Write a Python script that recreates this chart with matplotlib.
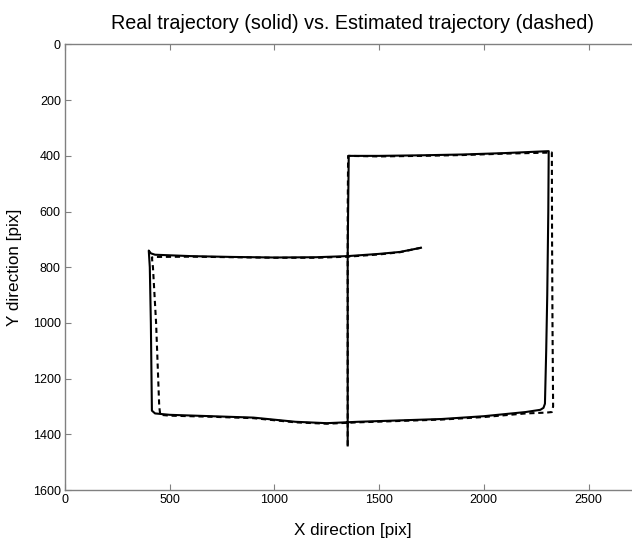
import matplotlib
matplotlib.use("Agg")
import matplotlib.pyplot as plt

plt.rcParams['font.family'] = ['Liberation Sans', 'DejaVu Sans']

title = "Real trajectory (solid) vs. Estimated trajectory (dashed)"
xlabel = "X direction [pix]"
ylabel = "Y direction [pix]"
xticks = [0, 500, 1000, 1500, 2000, 2500]
yticks = [0, 200, 400, 600, 800, 1000, 1200, 1400, 1600]

real_x = [1350, 1350, 1350, 1352, 1355, 1500, 1700, 1900, 2100, 2310, 2308, 2303,
          2298, 2292, 2285, 2270, 2200, 2000, 1800, 1600, 1400, 1250, 1100, 900,
          700, 500, 430, 415, 410, 405, 400, 410, 430, 600, 800, 1000, 1200, 1350,
          1500, 1600, 1700]
real_y = [1440, 1100, 760, 600, 400, 400, 398, 395, 390, 383, 600, 900,
          1100, 1290, 1305, 1312, 1320, 1335, 1345, 1350, 1355, 1360, 1355, 1340,
          1335, 1330, 1325, 1315, 1000, 800, 740, 750, 755, 760, 763, 765, 764, 760,
          752, 745, 730]

est_x = [1350, 1350, 1350, 1352, 1500, 1700, 1900, 2100, 2325, 2326, 2328, 2331,
         2325, 2300, 2200, 2000, 1800, 1600, 1400, 1250, 1100, 900, 700, 500,
         455, 450, 435, 420, 415, 430, 600, 800, 1000, 1200, 1350, 1500, 1600, 1700]
est_y = [1440, 1000, 600, 400, 402, 400, 397, 392, 388, 700, 1000, 1300,
         1320, 1322, 1325, 1338, 1347, 1352, 1357, 1362, 1357, 1342, 1337, 1333,
         1330, 1300, 1000, 800, 765, 763, 762, 764, 766, 766, 762, 754, 746, 730]

W, H = 632, 542
fig = plt.figure(figsize=(W / 100, H / 100), dpi=100)
x_max = 2750
left_px, top_px, bottom_px = 65, 44.5, 490
px_per_unit = 104.7 / 500
ax = fig.add_axes([left_px / W, (H - bottom_px) / H,
                   x_max * px_per_unit / W, (bottom_px - top_px) / H])

ax.plot(est_x, est_y, color='black', linestyle=(0, (2.5, 1.8)), linewidth=1.5)
ax.plot(real_x, real_y, color='black', linestyle='-', linewidth=1.5)

ax.set_xlim(0, x_max)
ax.set_ylim(1600, 0)
ax.set_xticks(xticks)
ax.set_yticks(yticks)
ax.tick_params(direction='in', length=4, top=True, right=False, labelsize=9,
               color='#808080', pad=3)
for s in ax.spines.values():
    s.set_color('#808080')
    s.set_linewidth(1.0)

ax.set_title(title, fontsize=14.2, pad=11)
ax.set_xlabel(xlabel, fontsize=12.3, labelpad=12)
ax.set_ylabel(ylabel, fontsize=12.3, labelpad=8)

fig.savefig("out.png", dpi=100)
